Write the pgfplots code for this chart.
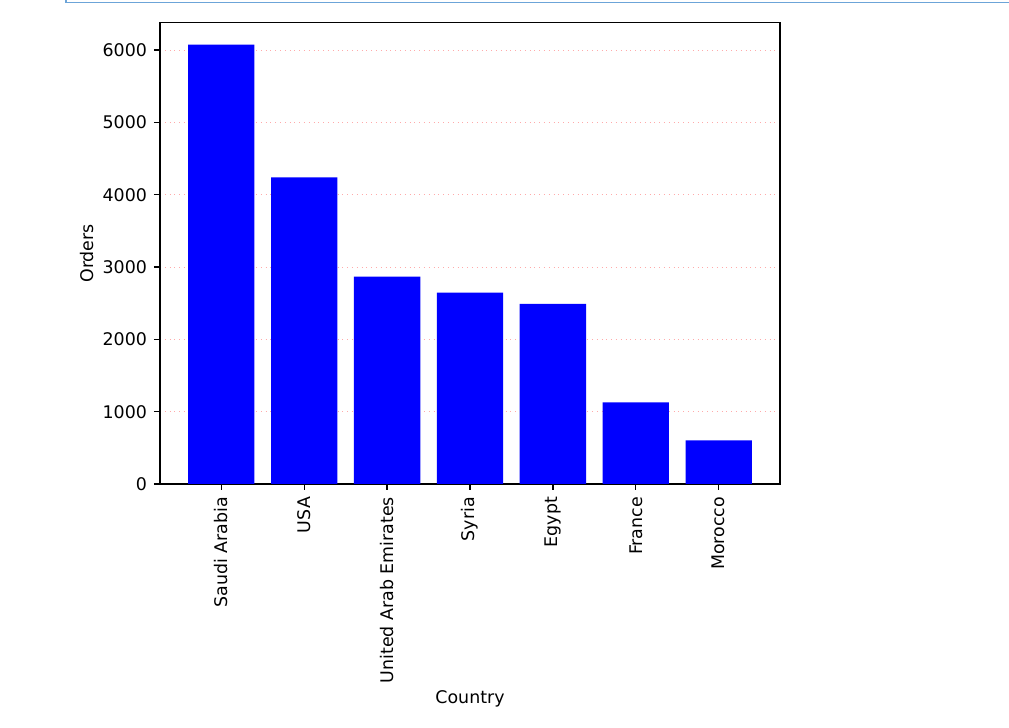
\documentclass[border=0pt]{standalone}
\usepackage{fontspec}
\setmainfont{DejaVu Sans}
\usepackage{pgfplots}
\pgfplotsset{compat=1.18}
\definecolor{cellblue}{RGB}{108,164,216}
\definecolor{gridred}{RGB}{255,170,170}

\begin{document}
\begin{tikzpicture}[font=\fontsize{8.7}{10.4}\selectfont]
% page frame (image is 1009x728 px, 1 px = 0.5pt, axis box at origin)
\path[use as bounding box, fill=white] (-80pt,-122pt) rectangle (424.5pt,242pt);
\draw[cellblue, line width=0.7pt] (-47pt,242pt) -- (-47pt,240.8pt) -- (424.5pt,240.8pt);
\begin{axis}[
    scale only axis,
    width=310pt, height=230.65pt,
    ybar,
    bar width=0.8,
    xmin=-0.74, xmax=6.74,
    ymin=0, ymax=6380,
    xtick={0,...,6},
    xticklabels={Saudi Arabia,USA,United Arab Emirates,Syria,Egypt,France,Morocco},
    x tick label style={rotate=90, anchor=east},
    ytick={0,1000,...,6000},
    /pgf/number format/1000 sep={},
    /pgf/number format/assume math mode=true,
    tick align=outside,
    tick pos=left,
    major tick length=3pt,
    axis line style={line width=0.7pt},
    every tick/.style={black, line width=0.7pt},
    ymajorgrids,
    grid style={gridred, dotted, line width=0.5pt},
    xlabel={Country},
    ylabel={Orders},
    xlabel style={yshift=3pt},
    ylabel style={yshift=-2.5pt},
    ]
\addplot[fill=blue, draw=none] coordinates {
    (0,6076) (1,4242) (2,2867) (3,2646) (4,2490) (5,1130) (6,604)};
\end{axis}
\end{tikzpicture}
\end{document}
